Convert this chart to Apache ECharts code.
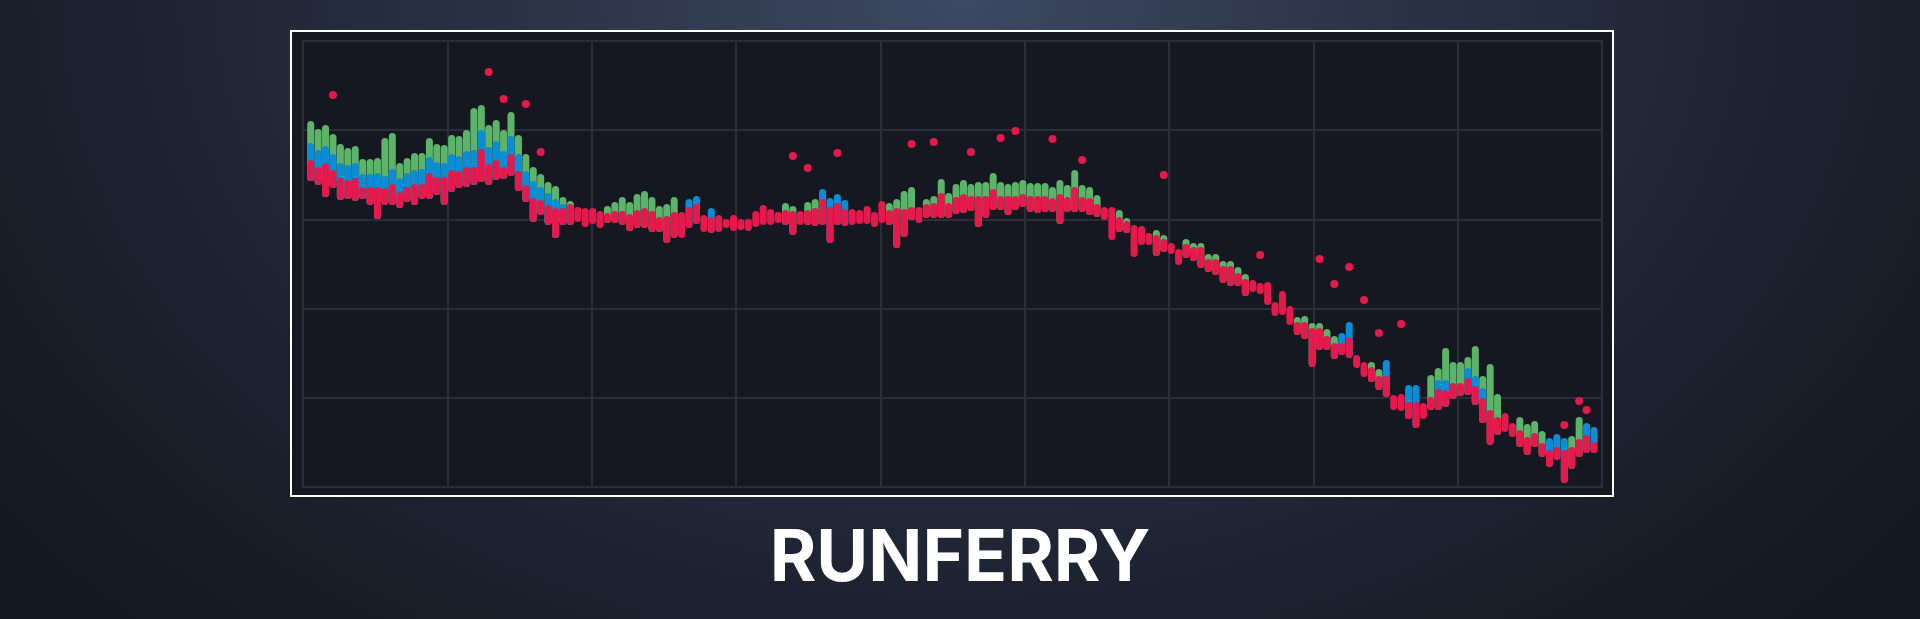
<!DOCTYPE html>
<html><head><meta charset="utf-8">
<script src="https://cdn.jsdelivr.net/npm/echarts@6/dist/echarts.min.js"></script>
<style>
html,body{margin:0;padding:0;width:1920px;height:619px;overflow:hidden;}
body{background: radial-gradient(ellipse 62% 140% at 50% 0%, #3d4963 0%, #2b3347 35%, #1d2331 68%, #141820 100%);}
#c{width:1920px;height:619px;}
</style></head><body><div id="c"></div>
<script>
const greenTop = [
366,358,362,353,343,339,341,328,328,329,
349,354,324,329,334,334,349,343,342,352,
351,357,379,382,362,367,357,375,352,333,
320,313,305,301,290,286,null,null,null,null,
281,285,290,285,293,296,290,281,283,290,
null,null,null,null,null,null,null,null,null,null,
null,null,null,null,284,281,null,285,288,null,
null,null,null,null,null,null,null,null,284,288,
296,300,null,288,291,308,294,303,307,303,
305,305,314,305,303,305,307,304,304,304,
300,307,302,317,302,300,292,null,null,277,
269,null,null,null,257,252,null,null,248,244,
244,233,233,226,226,220,213,null,null,null,
null,null,null,170,171,164,164,158,151,null,
null,null,null,125,118,null,null,null,null,null,
null,112,119,139,125,125,130,141,111,123,
93,null,null,70,63,66,56,null,null,null,
51,70,null,null];
const blueTop = [
344,337,341,333,324,322,324,313,313,314,
311,318,309,314,317,318,330,325,324,333,
331,336,337,357,340,346,336,351,333,316,
306,300,294,288,283,null,null,null,null,null,
null,null,null,null,null,null,null,null,null,null,
null,288,291,null,279,null,null,null,null,null,
null,null,null,null,null,null,null,null,null,298,
289,293,287,null,null,null,null,null,null,null,
null,null,null,null,null,null,null,null,null,null,
null,null,null,null,null,null,null,null,null,null,
null,null,null,null,null,null,null,null,null,null,
null,null,null,null,null,null,null,null,null,null,
null,null,null,null,null,null,null,null,null,null,
null,null,null,null,null,null,null,null,null,154,
165,null,null,null,null,127,null,null,102,102,
null,null,107,107,null,null,119,111,99,null,
null,null,null,null,null,null,null,49,53,49,
null,null,64,60];
const redTop = [
327,320,324,317,309,307,309,300,300,300,
299,303,295,300,303,303,314,310,310,317,
316,320,320,338,323,327,320,333,316,302,
289,287,282,279,279,283,280,279,279,276,
274,276,276,273,277,279,276,270,271,275,
275,280,283,272,270,272,268,272,268,268,
276,282,278,275,277,276,276,277,279,288,
280,284,278,278,277,281,275,286,277,279,
278,280,280,283,284,294,284,290,293,291,
291,291,298,291,291,291,293,291,291,291,
289,293,290,300,290,289,283,280,280,270,
266,262,261,254,252,248,244,238,243,240,
240,228,228,221,221,214,208,207,204,205,
185,196,181,165,165,159,159,151,144,144,
150,132,125,120,111,111,92,93,85,85,
84,90,98,97,104,104,109,101,89,77,
70,74,64,57,50,54,44,37,40,37,
40,48,52,45];
const lows = [
306,302,290,299,287,288,286,288,282,268,
282,282,279,285,282,288,288,292,282,295,
299,300,302,305,302,307,308,311,296,285,
265,272,262,249,262,262,265,260,263,259,
264,264,262,256,259,259,255,255,244,249,
249,259,263,255,254,255,259,256,257,256,
260,262,262,264,262,252,262,262,261,262,
244,262,261,262,263,263,260,264,262,239,
250,267,264,269,269,269,269,273,274,276,
260,269,277,277,272,277,280,275,274,275,
275,263,275,275,275,272,270,267,247,255,
254,230,242,242,231,235,233,222,229,226,
219,215,212,204,201,201,191,195,193,182,
171,172,162,152,148,120,137,137,128,132,
129,119,110,105,97,90,77,76,68,59,
68,77,77,80,88,91,92,82,64,42,
52,55,50,40,32,40,30,20,27,4,
18,30,34,34];
const outlierIdx = [3,24,26,29,31,65,67,71,81,84,89,93,95,100,104,115,128,136,138,140,142,144,147,169,171,172];
const outlierVal = [392,415,388,383,335,331,319,334,343,345,335,349,356,348,327,312,232,228,203,220,187,154,163,62,86,77];
const titleText = 'RUNFERRY';

const GREEN = '#5cb46a', BLUE = '#0a8cd6', RED = '#e5194c';
const BAR_W = 7;

function rangeData(tops) {
  const out = [];
  tops.forEach((t, i) => { if (t != null) out.push([i, lows[i], t]); });
  return out;
}
function renderBar(color) {
  return function (params, api) {
    const i = api.value(0);
    const top = api.coord([i, api.value(2)]);
    const bot = api.coord([i, api.value(1)]);
    return {
      type: 'rect',
      shape: { x: top[0] - BAR_W / 2, y: top[1], width: BAR_W, height: bot[1] - top[1], r: BAR_W / 2 },
      style: { fill: color }
    };
  };
}

const chart = echarts.init(document.getElementById('c'), null, { renderer: 'canvas' });
chart.setOption({
  backgroundColor: 'transparent',
  animation: false,
  graphic: [
    { type: 'rect', z: -10, shape: { x: 291, y: 31, width: 1322, height: 465 },
      style: { fill: '#151821', stroke: '#ffffff', lineWidth: 2 } },
    { type: 'text', left: 'center', top: 524, z: 10,
      style: { text: titleText, font: 'bold 71px Inter', fill: '#ffffff' } }
  ],
  grid: { left: 303, top: 41, width: 1299, height: 446, show: true, borderColor: '#2a2e39', borderWidth: 2, backgroundColor: 'transparent' },
  xAxis: [
    { type: 'value', min: 0, max: 9, interval: 1, axisLabel: { show: false }, axisTick: { show: false }, axisLine: { show: false },
      splitLine: { show: true, lineStyle: { color: '#2a2e39', width: 2 } } },
    { type: 'value', min: -1.04, max: 174.08, show: false, splitLine: { show: false } }
  ],
  yAxis: { type: 'value', min: 0, max: 446, interval: 89.2, axisLabel: { show: false }, axisTick: { show: false }, axisLine: { show: false },
    splitLine: { show: true, lineStyle: { color: '#2a2e39', width: 2 } } },
  series: [
    { type: 'custom', xAxisIndex: 1, data: rangeData(greenTop), renderItem: renderBar(GREEN), z: 2 },
    { type: 'custom', xAxisIndex: 1, data: rangeData(blueTop), renderItem: renderBar(BLUE), z: 3 },
    { type: 'custom', xAxisIndex: 1, data: rangeData(redTop), renderItem: renderBar(RED), z: 4 },
    { type: 'scatter', xAxisIndex: 1, symbolSize: 8, itemStyle: { color: RED, opacity: 1 }, z: 5,
      data: outlierIdx.map((ix, k) => [ix, outlierVal[k]]) }
  ]
});
</script></body></html>
